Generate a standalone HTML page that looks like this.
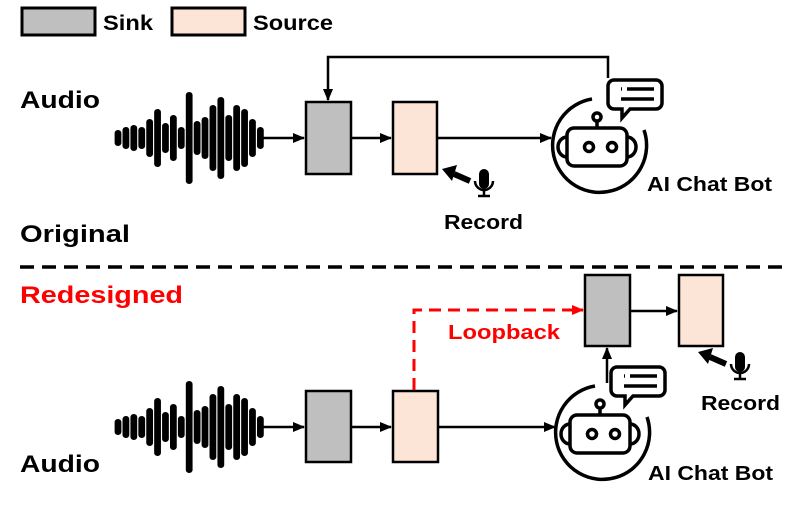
<!DOCTYPE html>
<html><head><meta charset="utf-8"><style>
html,body{margin:0;padding:0;background:#fff;}
svg{display:block;}
text{font-family:"Liberation Sans",sans-serif;font-weight:bold;}
</style></head><body>
<svg width="797" height="505" viewBox="0 0 797 505" xmlns="http://www.w3.org/2000/svg">
<defs>
<marker id="ah" markerWidth="12" markerHeight="12" refX="11" refY="6" orient="auto" markerUnits="userSpaceOnUse" viewBox="0 0 12 12"><path d="M0,1 L12,6 L0,11 z" fill="#000"/></marker>
<marker id="ar" markerWidth="12" markerHeight="12" refX="11" refY="6" orient="auto" markerUnits="userSpaceOnUse" viewBox="0 0 12 12"><path d="M0,1 L12,6 L0,11 z" fill="#f00"/></marker>
<g id="wave" stroke="#000" stroke-linecap="round" stroke-width="6" transform="scale(1.13,1)">
<line x1="0" y1="-5" x2="0" y2="5"/><line x1="7" y1="-8" x2="7" y2="8"/><line x1="14" y1="-10" x2="14" y2="10"/>
<line x1="21" y1="-8" x2="21" y2="8"/><line x1="28" y1="-16" x2="28" y2="16"/><line x1="35" y1="-26" x2="35" y2="26"/>
<line x1="42" y1="-12" x2="42" y2="12"/><line x1="49" y1="-20" x2="49" y2="20"/><line x1="56" y1="-8" x2="56" y2="8"/>
<line x1="63" y1="-43" x2="63" y2="43"/><line x1="70" y1="-14" x2="70" y2="14"/><line x1="77" y1="-18" x2="77" y2="18"/>
<line x1="84" y1="-30" x2="84" y2="30"/><line x1="91" y1="-38" x2="91" y2="38"/><line x1="98" y1="-20" x2="98" y2="20"/>
<line x1="105" y1="-30" x2="105" y2="30"/><line x1="112" y1="-26" x2="112" y2="26"/><line x1="119" y1="-16" x2="119" y2="16"/>
<line x1="126" y1="-8" x2="126" y2="8"/>
</g>
<g id="bot" fill="none" stroke="#000" stroke-width="3.5">
<path d="M-8,-46 A47,47 0 1 0 44,-15" />
<rect x="-33" y="-17" width="60" height="38" rx="7"/>
<path d="M-33,-8 A9,10 0 0 0 -33,12"/><path d="M27,-8 A9,10 0 0 1 27,12"/>
<circle cx="-11" cy="2" r="4.5"/><circle cx="12" cy="2" r="4.5"/>
<line x1="-3" y1="-17" x2="-3" y2="-24"/><circle cx="-3" cy="-28" r="4"/>
<path d="M14,-65 h42 a6,6 0 0 1 6,6 v17 a6,6 0 0 1 -6,6 h-26 l-8,9 v-9 h-8 a6,6 0 0 1 -6,-6 v-17 a6,6 0 0 1 6,-6 z"/>
<line x1="21" y1="-56" x2="22" y2="-56"/><line x1="27" y1="-56" x2="54" y2="-56"/><line x1="21" y1="-46" x2="54" y2="-46"/>
</g>
<g id="mic">
<rect x="-5" y="-14" width="10" height="20" rx="5" fill="#000"/>
<path d="M-9,-2 a9,9 0 0 0 18,0" fill="none" stroke="#000" stroke-width="2.5"/>
<line x1="0" y1="7" x2="0" y2="13" stroke="#000" stroke-width="2.5"/>
<line x1="-6" y1="13" x2="6" y2="13" stroke="#000" stroke-width="2.5"/>
<line x1="-14" y1="-2" x2="-30" y2="-9" stroke="#000" stroke-width="6"/>
<path d="M-42,-14 L-27,-18 L-32,-2 z" fill="#000"/>
</g>
</defs>

<!-- legend -->
<rect x="22" y="8" width="73" height="27" fill="#bfbfbf" stroke="#000" stroke-width="3"/>
<text x="103" y="30" font-size="21" textLength="50" lengthAdjust="spacingAndGlyphs">Sink</text>
<rect x="172" y="8" width="73" height="27" fill="#fce4d6" stroke="#000" stroke-width="3"/>
<text x="253" y="30" font-size="21" textLength="80" lengthAdjust="spacingAndGlyphs">Source</text>

<!-- top -->
<text x="20" y="108" font-size="24" textLength="80" lengthAdjust="spacingAndGlyphs">Audio</text>
<text x="20" y="242" font-size="24" textLength="110" lengthAdjust="spacingAndGlyphs">Original</text>
<use href="#wave" x="118" y="138"/>
<line x1="262" y1="138" x2="304" y2="138" stroke="#000" stroke-width="2.5" marker-end="url(#ah)"/>
<rect x="306" y="102" width="45" height="72" fill="#bfbfbf" stroke="#000" stroke-width="2.5"/>
<line x1="351" y1="138" x2="391" y2="138" stroke="#000" stroke-width="2.5" marker-end="url(#ah)"/>
<rect x="393" y="102" width="44" height="72" fill="#fce4d6" stroke="#000" stroke-width="2.5"/>
<line x1="437" y1="138" x2="551" y2="138" stroke="#000" stroke-width="2.5" marker-end="url(#ah)"/>
<polyline points="608,78 608,57 328,57 328,100" fill="none" stroke="#000" stroke-width="2.5" marker-end="url(#ah)"/>
<use href="#bot" x="600" y="145"/>
<text x="647" y="191" font-size="20" textLength="125" lengthAdjust="spacingAndGlyphs">AI Chat Bot</text>
<use href="#mic" x="484" y="183"/>
<text x="444" y="229" font-size="20" textLength="79" lengthAdjust="spacingAndGlyphs">Record</text>

<!-- divider -->
<line x1="20" y1="267" x2="782" y2="267" stroke="#000" stroke-width="3.5" stroke-dasharray="14,8"/>

<!-- bottom -->
<text x="20" y="303" font-size="24" fill="#f00" textLength="163" lengthAdjust="spacingAndGlyphs">Redesigned</text>
<text x="20" y="472" font-size="24" textLength="80" lengthAdjust="spacingAndGlyphs">Audio</text>
<use href="#wave" x="118" y="427"/>
<line x1="262" y1="427" x2="304" y2="427" stroke="#000" stroke-width="2.5" marker-end="url(#ah)"/>
<rect x="306" y="391" width="45" height="71" fill="#bfbfbf" stroke="#000" stroke-width="2.5"/>
<line x1="351" y1="427" x2="391" y2="427" stroke="#000" stroke-width="2.5" marker-end="url(#ah)"/>
<rect x="393" y="391" width="45" height="71" fill="#fce4d6" stroke="#000" stroke-width="2.5"/>
<line x1="438" y1="427" x2="555" y2="427" stroke="#000" stroke-width="2.5" marker-end="url(#ah)"/>
<polyline points="414,390 414,310 583,310" fill="none" stroke="#f00" stroke-width="3" stroke-dasharray="12,7" marker-end="url(#ar)"/>
<text x="448" y="339" font-size="20" fill="#f00" textLength="112" lengthAdjust="spacingAndGlyphs">Loopback</text>
<rect x="585" y="275" width="45" height="71" fill="#bfbfbf" stroke="#000" stroke-width="2.5"/>
<line x1="630" y1="311" x2="677" y2="311" stroke="#000" stroke-width="2.5" marker-end="url(#ah)"/>
<rect x="679" y="275" width="44" height="71" fill="#fce4d6" stroke="#000" stroke-width="2.5"/>
<line x1="607" y1="383" x2="607" y2="348" stroke="#000" stroke-width="2.5" marker-end="url(#ah)"/>
<use href="#bot" x="603" y="432"/>
<text x="648" y="480" font-size="20" textLength="125" lengthAdjust="spacingAndGlyphs">AI Chat Bot</text>
<use href="#mic" x="740" y="366"/>
<text x="701" y="410" font-size="20" textLength="79" lengthAdjust="spacingAndGlyphs">Record</text>
</svg>
</body></html>
